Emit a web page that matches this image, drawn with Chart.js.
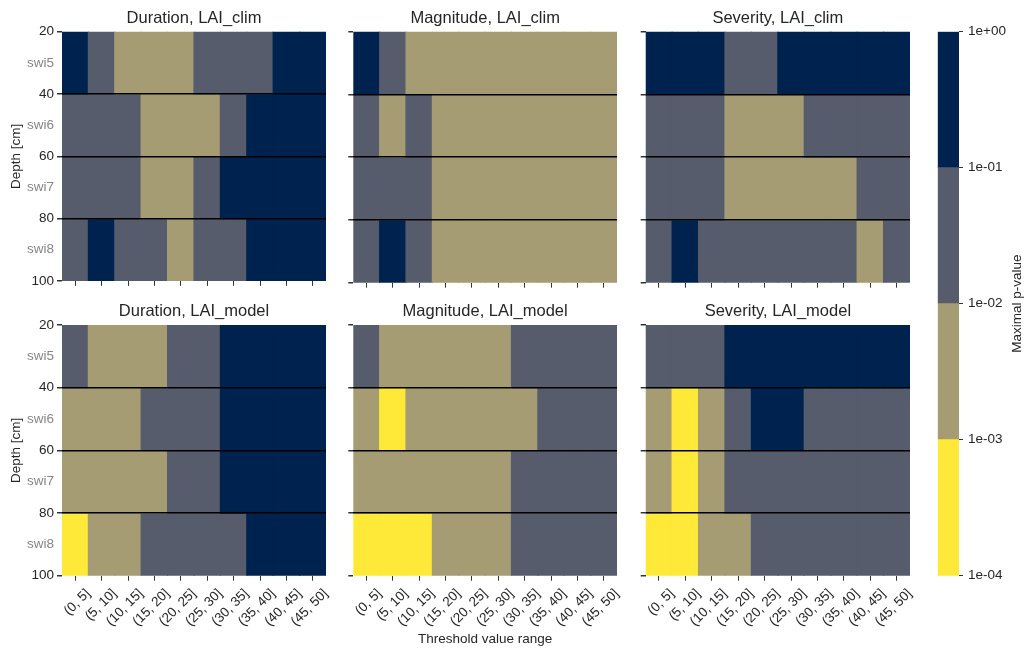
<!DOCTYPE html>
<html>
<head>
<meta charset="utf-8">
<script src="https://cdn.jsdelivr.net/npm/chart.js@4.4.0/dist/chart.umd.min.js"></script>
<style>
  html, body { margin: 0; padding: 0; background: #fff; }
  #wrap { position: relative; width: 1025px; height: 649px; overflow: hidden; }
  #wrap canvas { position: absolute; }
</style>
</head>
<body>
<div id="wrap">
  <canvas id="durClim"></canvas>
  <canvas id="magClim"></canvas>
  <canvas id="sevClim"></canvas>
  <canvas id="durModel"></canvas>
  <canvas id="magModel"></canvas>
  <canvas id="sevModel"></canvas>
  <canvas id="cbar"></canvas>
</div>
<script>
// categories / ticks
const thresholds = ['(0, 5]', '(5, 10]', '(10, 15]', '(15, 20]', '(20, 25]',
                    '(25, 30]', '(30, 35]', '(35, 40]', '(40, 45]', '(45, 50]'];
const layers = ['swi5', 'swi6', 'swi7', 'swi8'];
const depthEdges = [20, 40, 60, 80, 100];
const pBounds = [1e-4, 1e-3, 1e-2, 1e-1, 1];
const bandColors = ['#fee838', '#a59c74', '#575c6d', '#00224e'];

const durationClim = [
  [0.3, 0.03, 0.003, 0.003, 0.003, 0.03, 0.03, 0.03, 0.3, 0.3],
  [0.03, 0.03, 0.03, 0.003, 0.003, 0.003, 0.03, 0.3, 0.3, 0.3],
  [0.03, 0.03, 0.03, 0.003, 0.003, 0.03, 0.3, 0.3, 0.3, 0.3],
  [0.03, 0.3, 0.03, 0.03, 0.003, 0.03, 0.03, 0.3, 0.3, 0.3]
];
const magnitudeClim = [
  [0.3, 0.03, 0.003, 0.003, 0.003, 0.003, 0.003, 0.003, 0.003, 0.003],
  [0.03, 0.003, 0.03, 0.003, 0.003, 0.003, 0.003, 0.003, 0.003, 0.003],
  [0.03, 0.03, 0.03, 0.003, 0.003, 0.003, 0.003, 0.003, 0.003, 0.003],
  [0.03, 0.3, 0.03, 0.003, 0.003, 0.003, 0.003, 0.003, 0.003, 0.003]
];
const severityClim = [
  [0.3, 0.3, 0.3, 0.03, 0.03, 0.3, 0.3, 0.3, 0.3, 0.3],
  [0.03, 0.03, 0.03, 0.003, 0.003, 0.003, 0.03, 0.03, 0.03, 0.03],
  [0.03, 0.03, 0.03, 0.003, 0.003, 0.003, 0.003, 0.003, 0.03, 0.03],
  [0.03, 0.3, 0.03, 0.03, 0.03, 0.03, 0.03, 0.03, 0.003, 0.03]
];
const durationModel = [
  [0.03, 0.003, 0.003, 0.003, 0.03, 0.03, 0.3, 0.3, 0.3, 0.3],
  [0.003, 0.003, 0.003, 0.03, 0.03, 0.03, 0.3, 0.3, 0.3, 0.3],
  [0.003, 0.003, 0.003, 0.003, 0.03, 0.03, 0.3, 0.3, 0.3, 0.3],
  [0.0003, 0.003, 0.003, 0.03, 0.03, 0.03, 0.03, 0.3, 0.3, 0.3]
];
const magnitudeModel = [
  [0.03, 0.003, 0.003, 0.003, 0.003, 0.003, 0.03, 0.03, 0.03, 0.03],
  [0.003, 0.0003, 0.003, 0.003, 0.003, 0.003, 0.003, 0.03, 0.03, 0.03],
  [0.003, 0.003, 0.003, 0.003, 0.003, 0.003, 0.03, 0.03, 0.03, 0.03],
  [0.0003, 0.0003, 0.0003, 0.003, 0.003, 0.003, 0.03, 0.03, 0.03, 0.03]
];
const severityModel = [
  [0.03, 0.03, 0.03, 0.3, 0.3, 0.3, 0.3, 0.3, 0.3, 0.3],
  [0.003, 0.0003, 0.003, 0.03, 0.3, 0.3, 0.03, 0.03, 0.03, 0.03],
  [0.003, 0.0003, 0.003, 0.03, 0.03, 0.03, 0.03, 0.03, 0.03, 0.03],
  [0.0003, 0.0003, 0.003, 0.003, 0.03, 0.03, 0.03, 0.03, 0.03, 0.03]
];

const FONT = "'Liberation Sans', Arial, sans-serif";
const TEXT = '#262626';
Chart.defaults.font.family = FONT;

function colorFor(p) {
  for (let i = 0; i < bandColors.length; i++) {
    if (p < pBounds[i + 1]) return bandColors[i];
  }
  return bandColors[bandColors.length - 1];
}

function fmtExp(v) {
  const e = Math.round(Math.log10(v));
  const s = e < 0 ? '-' : '+';
  return '1e' + s + String(Math.abs(e)).padStart(2, '0');
}

// depth ticks: layer edges plus layer centres (for the swi names)
const depthTicks = [];
depthEdges.forEach((d, i) => {
  depthTicks.push(d);
  if (i < layers.length) depthTicks.push((d + depthEdges[i + 1]) / 2);
});
const isEdge = v => depthEdges.includes(v);
const isInner = v => isEdge(v) && v !== depthEdges[0] && v !== depthEdges[depthEdges.length - 1];

const cols = [
  { x: 0, w: 345, yW: 62, padR: 19, showY: true },
  { x: 330, w: 315, yW: 23.3, padR: 28, showY: false },
  { x: 630, w: 305, yW: 15.7, padR: 25, showY: false }
];
const rowsLayout = [
  { y: 0, h: 292, tTop: 8.6, tBot: 3.3, xH: 9.3, showX: false },
  { y: 290, h: 359, tTop: 11.8, tBot: 3.4, xH: 73.3, showX: true }
];

function heatmap(id, title, values, col, row, xTitle) {
  const canvas = document.getElementById(id);
  canvas.width = col.w;
  canvas.height = row.h;
  canvas.style.left = col.x + 'px';
  canvas.style.top = row.y + 'px';

  const datasets = values.map((vals, r) => ({
    label: layers[r],
    data: vals.map(() => [depthEdges[r], depthEdges[r + 1]]),
    backgroundColor: vals.map(colorFor),
    grouped: false,
    barPercentage: 1,
    categoryPercentage: 1,
    borderWidth: 0,
    inflateAmount: 0.6
  }));

  new Chart(canvas, {
    type: 'bar',
    data: { labels: thresholds, datasets },
    options: {
      responsive: false,
      animation: false,
      layout: { padding: { left: 0, right: col.padR, top: 0, bottom: 0 } },
      plugins: {
        legend: { display: false },
        tooltip: { enabled: false },
        title: {
          display: true, text: title, color: TEXT, fullSize: false,
          font: { size: 16.5, weight: 'normal' },
          padding: { top: row.tTop, bottom: row.tBot }
        }
      },
      scales: {
        x: {
          type: 'category',
          offset: true,
          border: { display: false },
          grid: { drawOnChartArea: false, offset: false, tickLength: 5, tickColor: '#333', lineWidth: 1 },
          ticks: {
            display: row.showX, autoSkip: false, minRotation: 45, maxRotation: 45,
            labelOffset: 13, padding: 5, color: TEXT, font: { size: 13.5 }
          },
          title: {
            display: !!xTitle, text: xTitle || '', color: TEXT,
            font: { size: 13.5 }, padding: { top: 0, bottom: 2 }
          },
          afterFit: s => { s.height = row.xH; }
        },
        y: {
          type: 'linear',
          min: depthEdges[0],
          max: depthEdges[depthEdges.length - 1],
          reverse: true,
          border: { display: false },
          afterBuildTicks: s => { s.ticks = depthTicks.map(v => ({ value: v })); },
          grid: {
            z: 1,
            color: c => (c.tick && isInner(c.tick.value)) ? '#000' : 'rgba(0,0,0,0)',
            lineWidth: 1.5,
            tickColor: c => (c.tick && isEdge(c.tick.value)) ? '#333' : 'rgba(0,0,0,0)',
            tickLength: 5
          },
          ticks: {
            display: col.showY,
            padding: 3,
            font: { size: 13.5 },
            color: c => (c.tick && isEdge(c.tick.value)) ? TEXT : '#868686',
            callback: v => isEdge(v) ? String(v) : layers[depthEdges.indexOf(v - 10)]
          },
          title: {
            display: col.showY, text: 'Depth [cm]', color: TEXT,
            font: { size: 13.5 }, padding: { top: 8, bottom: 0 }
          },
          afterFit: s => { s.width = col.yW; }
        }
      }
    }
  });
}

heatmap('durClim', 'Duration, LAI_clim', durationClim, cols[0], rowsLayout[0]);
heatmap('magClim', 'Magnitude, LAI_clim', magnitudeClim, cols[1], rowsLayout[0]);
heatmap('sevClim', 'Severity, LAI_clim', severityClim, cols[2], rowsLayout[0]);
heatmap('durModel', 'Duration, LAI_model', durationModel, cols[0], rowsLayout[1]);
heatmap('magModel', 'Magnitude, LAI_model', magnitudeModel, cols[1], rowsLayout[1], 'Threshold value range');
heatmap('sevModel', 'Severity, LAI_model', severityModel, cols[2], rowsLayout[1]);

// colour bar
const cbCanvas = document.getElementById('cbar');
cbCanvas.width = 95;
cbCanvas.height = 649;
cbCanvas.style.left = '930px';
cbCanvas.style.top = '0px';

const cbTitle = {
  id: 'cbTitle',
  afterDraw(chart) {
    const { ctx, chartArea } = chart;
    ctx.save();
    ctx.translate(87.5, (chartArea.top + chartArea.bottom) / 2);
    ctx.rotate(-Math.PI / 2);
    ctx.font = '13.5px ' + FONT;
    ctx.fillStyle = TEXT;
    ctx.textAlign = 'center';
    ctx.textBaseline = 'middle';
    ctx.fillText('Maximal p-value', 0, 0);
    ctx.restore();
  }
};

new Chart(cbCanvas, {
  type: 'bar',
  data: {
    labels: [''],
    datasets: bandColors.map((c, i) => ({
      data: [[pBounds[i], pBounds[i + 1]]],
      backgroundColor: c,
      grouped: false,
      barPercentage: 1,
      categoryPercentage: 1,
      borderWidth: 0
    }))
  },
  options: {
    responsive: false,
    animation: false,
    layout: { padding: { left: 7.7, right: 0, top: 31.7, bottom: 73.3 } },
    plugins: { legend: { display: false }, tooltip: { enabled: false } },
    scales: {
      x: { type: 'category', display: false },
      y: {
        type: 'logarithmic',
        position: 'right',
        min: pBounds[0],
        max: pBounds[pBounds.length - 1],
        border: { display: false },
        afterBuildTicks: s => { s.ticks = pBounds.map(v => ({ value: v })); },
        grid: { drawOnChartArea: false, tickLength: 4, tickColor: '#333' },
        ticks: { padding: 5, color: TEXT, font: { size: 13.5 }, callback: v => fmtExp(v) },
        afterFit: s => { s.width = 66; }
      }
    }
  },
  plugins: [cbTitle]
});
</script>
</body>
</html>
